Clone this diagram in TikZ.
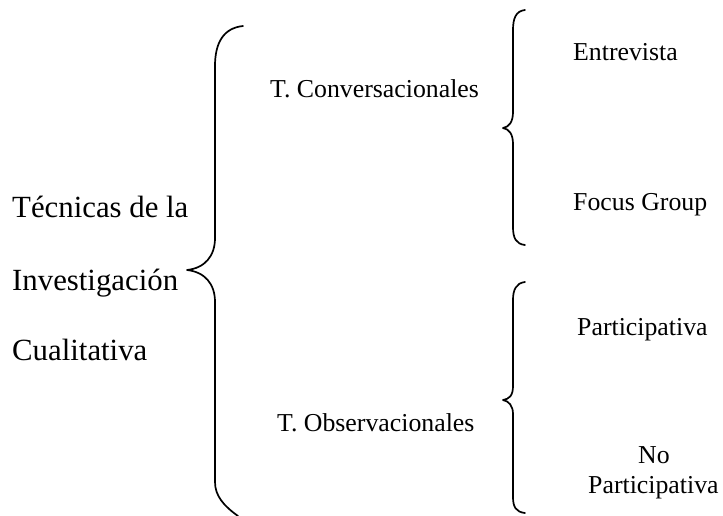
\documentclass[tikz,border=0pt]{standalone}
\usepackage{fontspec}
\setmainfont{Liberation Serif}
\begin{document}
\begin{tikzpicture}[x=1pt,y=-1pt,
  big/.style={anchor=base west,inner sep=0pt,font=\fontsize{30.8}{37}\selectfont},
  small/.style={anchor=base west,inner sep=0pt,font=\fontsize{25.8}{31}\selectfont},
  bracepath/.style={line width=1.7pt,line cap=round,line join=round}]
\useasboundingbox (0,0) rectangle (723,515);
% texts
\node[big] (t1) at (12,217) {Técnicas de la};
\node[big] (t2) at (12,290) {Investigación};
\node[big] (t3) at (12,360) {Cualitativa};
\node[small] (conv) at (270,97) {T. Conversacionales};
\node[small] (obs) at (277,431) {T. Observacionales};
\node[small] (ent) at (573,60) {Entrevista};
\node[small] (foc) at (573,210) {Focus Group};
\node[small] (par) at (577,335) {Participativa};
\node[small] (no) at (638,463) {No};
\node[small] (npar) at (588,493) {Participativa};
% brace 1
\draw[bracepath] (243,26) .. controls (224,28) and (215,42) .. (215,66)
  -- (215,238) .. controls (215,256) and (205,268) .. (187,270)
  .. controls (205,272) and (215,284) .. (215,302)
  -- (215,482) .. controls (215,496) and (224,506) .. (238,516);
% brace 2
\draw[bracepath] (525,10) .. controls (516,11) and (513,18) .. (513,30)
  -- (513,112) .. controls (513,122) and (509,127) .. (503,128)
  .. controls (509,129) and (513,134) .. (513,144)
  -- (513,227) .. controls (513,238) and (516,244) .. (525,245);
% brace 3
\draw[bracepath] (525,282) .. controls (516,283) and (513,290) .. (513,300)
  -- (513,386) .. controls (513,396) and (509,399) .. (503,400)
  .. controls (509,401) and (513,406) .. (513,414)
  -- (513,497) .. controls (513,507) and (516,512) .. (525,513);
\end{tikzpicture}
\end{document}
